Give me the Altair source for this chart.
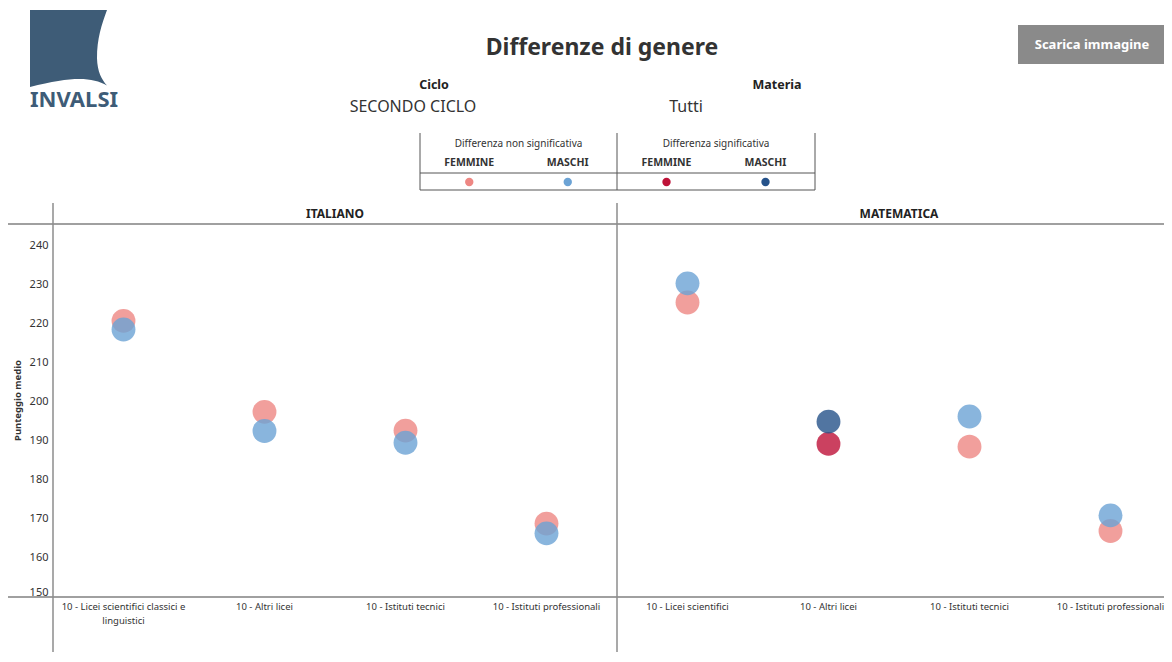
import altair as alt
import pandas as pd

# ---------------- data ----------------
materie = ["ITALIANO", "MATEMATICA"]
indirizzi_italiano = ["10 - Licei scientifici classici e linguistici", "10 - Altri licei",
                      "10 - Istituti tecnici", "10 - Istituti professionali"]
indirizzi_matematica = ["10 - Licei scientifici", "10 - Altri licei",
                        "10 - Istituti tecnici", "10 - Istituti professionali"]
femmine_italiano = [220.7, 197.4, 192.6, 168.8]
maschi_italiano = [218.5, 192.5, 189.5, 166.3]
femmine_matematica = [225.4, 189.2, 188.5, 166.9]
maschi_matematica = [230.3, 194.9, 196.2, 170.9]
significativa_italiano = [False, False, False, False]
significativa_matematica = [False, True, False, False]
y_tick_values = [150, 160, 170, 180, 190, 200, 210, 220, 230, 240]
y_domain = [150, 245.5]

gruppi = ["Femmine - non significativa", "Maschi - non significativa",
          "Femmine - significativa", "Maschi - significativa"]
colori = ["#EE8783", "#6CA3D5", "#BE1238", "#25528A"]

# ---------------- table ----------------
blocks = [
    (materie[0], indirizzi_italiano, femmine_italiano, maschi_italiano, significativa_italiano),
    (materie[1], indirizzi_matematica, femmine_matematica, maschi_matematica, significativa_matematica),
]
keys = [m + "|" + c for m, cats, *_ in blocks for c in cats]
rows = []
for genere, gi in (("Femmine", 0), ("Maschi", 1)):
    for materia, cats, f, m, sig in blocks:
        vals = f if gi == 0 else m
        for c, v, s in zip(cats, vals, sig):
            rows.append({
                "key": materia + "|" + c,
                "materia": materia,
                "indirizzo": c,
                "genere": genere,
                "valore": v,
                "gruppo": gruppi[gi + (2 if s else 0)],
                "ordine": gi,
            })
df = pd.DataFrame(rows)

# ---------------- layout ----------------
W = 1111          # visible plot width
FULL_W = 1128     # width of the two panels (right one is cut like the original)
H = 373
BOTTOM = 428
LINE = "#8c8c8c"

lbl = "split(datum.value, '|')[1]"
cut = f"lastindexof(substring({lbl}, 0, 34), ' ')"
label_expr = (f"length({lbl}) > 34 ? [substring({lbl}, 0, {cut}), substring({lbl}, {cut} + 1)] : {lbl}")

x_axis = alt.Axis(labelExpr=label_expr, labelAngle=0, labelFont="Noto Sans", labelFontSize=9.5,
                  labelColor="#333333", labelPadding=4, labelLineHeight=14, domain=False,
                  ticks=False, tickSize=0, grid=False, title=None)


def xenc(**kw):
    return alt.X("key:N",
                 scale=alt.Scale(domain=keys, range=[0, FULL_W], paddingInner=0, paddingOuter=0),
                 axis=x_axis, **kw)


y_enc = alt.Y("valore:Q",
              scale=alt.Scale(domain=y_domain, nice=False, zero=False),
              axis=alt.Axis(values=y_tick_values, title="Punteggio medio", grid=False, ticks=False,
                            tickSize=0, domain=False, labelFlush=True, labelPadding=5,
                            labelFont="Noto Sans", labelFontSize=11, labelColor="#333333",
                            titleFont="Noto Sans", titleFontSize=9.5, titleFontWeight="bold",
                            titleColor="#333333", titleX=-36, titleY=176, titleAngle=270,
                            titleAlign="center", titleBaseline="middle"))


def txt(text, x, y, size, weight="normal", color="#333333", align="center", font="Noto Sans"):
    return alt.Chart(pd.DataFrame({"t": [text]})).mark_text(
        font=font, fontSize=size, fontWeight=weight, color=color, align=align, baseline="middle"
    ).encode(x=alt.value(x), y=alt.value(y), text="t:N")


one = pd.DataFrame({"d": [0]})


def hline(y, x0, x1, color=LINE, w=1.5):
    return alt.Chart(one).mark_rule(color=color, strokeWidth=w).encode(
        x=alt.value(x0), x2=alt.value(x1), y=alt.value(y))


def vline(x, y0, y1, color=LINE, w=1.5):
    return alt.Chart(one).mark_rule(color=color, strokeWidth=w).encode(
        x=alt.value(x), y=alt.value(y0), y2=alt.value(y1))


layers = []

# panel frame
layers.append(hline(0, -45, FULL_W, "#a0a0a0", 2))
layers.append(hline(H, -45, FULL_W, "#a0a0a0", 2))
sep = alt.Chart(pd.DataFrame({"key": [keys[0], keys[4]]})).mark_rule(
    color=LINE, strokeWidth=1.5).encode(x=xenc(bandPosition=0), y=alt.value(-21), y2=alt.value(BOTTOM))
layers.append(sep)
head = alt.Chart(pd.DataFrame({"key": [keys[1], keys[5]], "materia": materie})).mark_text(
    font="Noto Sans", fontSize=12, fontWeight="bold", color="#222222", baseline="middle"
).encode(x=xenc(bandPosition=1), y=alt.value(-10), text="materia:N")
layers.append(head)

# data points
points = alt.Chart(df).mark_circle(size=570, opacity=0.8).encode(
    x=xenc(),
    y=y_enc,
    color=alt.Color("gruppo:N", scale=alt.Scale(domain=gruppi, range=colori), legend=None),
    order=alt.Order("ordine:Q"),
    tooltip=["materia:N", "indirizzo:N", "genere:N", "valore:Q"],
)
layers.append(points)

# ---------------- header ----------------
logo_path = ("M -1 -1 L 1 -1 C 0.86 -0.62 0.74 -0.25 0.74 0.25 C 0.75 0.6 0.86 0.8 1 0.96 "
             "C 0.6 0.74 0.1 0.72 -1 1 Z")
layers.append(alt.Chart(one).mark_point(shape=logo_path, filled=True, size=5929, color="#3E5C77",
                                        opacity=1, strokeWidth=0).encode(
    x=alt.value(15.5), y=alt.value(-175.5)))
layers.append(txt("INVALSI", -23, -124, 22, "bold", "#3E5C77", align="left"))

layers.append(txt("Differenze di genere", 549, -176, 23, "bold", "#333333"))
layers.append(txt("Ciclo", 381, -139, 12.5, "bold", "#222222"))
layers.append(txt("SECONDO CICLO", 360, -117, 16, "normal", "#333333"))
layers.append(txt("Materia", 724, -139, 12.5, "bold", "#222222"))
layers.append(txt("Tutti", 633, -117, 16, "normal", "#333333"))

# button
layers.append(alt.Chart(one).mark_rect(color="#8a8a8a").encode(
    x=alt.value(965), x2=alt.value(1113), y=alt.value(-199), y2=alt.value(-160)))
layers.append(txt("Scarica immagine", 1039, -179.5, 13, "bold", "#ffffff"))

# custom legend box
LX0, LXM, LX1 = 367, 564, 762
LT, LM, LB = -91, -51, -34
for xv in (LX0, LXM, LX1):
    layers.append(vline(xv, LT, LB, "#555555", 1))
layers.append(hline(LM, LX0, LX1, "#555555", 1))
layers.append(hline(LB, LX0, LX1, "#555555", 1))
layers.append(txt("Differenza non significativa", (LX0 + LXM) / 2, -80, 10, "normal", "#333333"))
layers.append(txt("Differenza significativa", (LXM + LX1) / 2, -80, 10, "normal", "#333333"))
col_x = [LX0 + (LXM - LX0) * 0.25, LX0 + (LXM - LX0) * 0.75,
         LXM + (LX1 - LXM) * 0.25, LXM + (LX1 - LXM) * 0.75]
for i, g in enumerate(gruppi):
    layers.append(txt(g.split(" - ")[0].upper(), col_x[i], -61, 10.5, "bold", "#333333"))
    layers.append(alt.Chart(pd.DataFrame({"gruppo": [g]})).mark_circle(size=70, opacity=1).encode(
        x=alt.value(col_x[i]), y=alt.value(-42),
        color=alt.Color("gruppo:N", scale=alt.Scale(domain=gruppi, range=colori), legend=None)))

chart = alt.layer(*layers).properties(
    width=W, height=H,
    padding={"left": 45, "top": 216, "right": 0, "bottom": 55},
    autosize=alt.AutoSizeParams(type="none"),
    background="white",
).configure_view(stroke=None)

chart.save("out.html", embed_options={"renderer": "svg", "actions": False})
